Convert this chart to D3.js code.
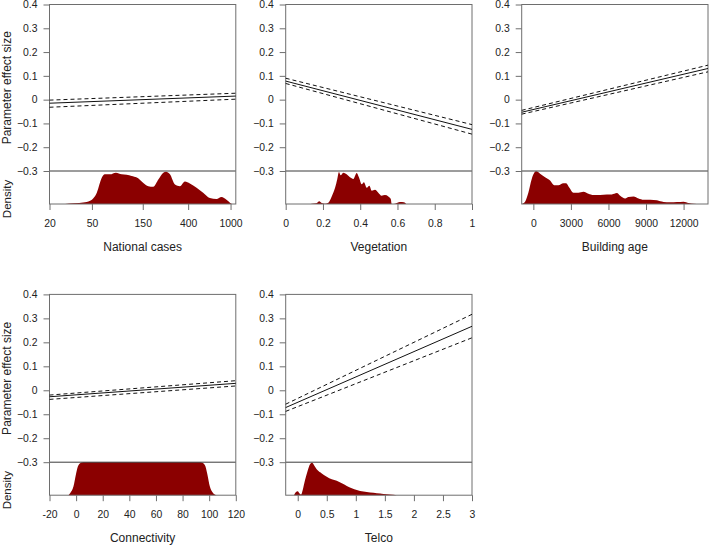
<!DOCTYPE html>
<html><head><meta charset="utf-8">
<script src="https://cdn.jsdelivr.net/npm/d3@7"></script>
<style>body{margin:0;background:#fff}svg{display:block}</style>
</head><body>
<svg id="c" width="709" height="546"></svg>
<script>
// ---- shared effect axis ----
const effectTicks = [0.4, 0.3, 0.2, 0.1, 0, -0.1, -0.2, -0.3];

// ---- National cases (log axis) ----
const ncDomain = [20, 1120];
const ncTicks = [20, 50, 150, 400, 1000];
const ncLineX = [20, 1120];
const ncFit = [-0.015, 0.015];
const ncLower = [-0.032, 0.002];
const ncUpper = [-0.002, 0.027];
const ncDensX = [28, 33.6, 43, 50, 55.6, 62, 66, 74, 84, 95, 106, 118, 132, 152, 169, 188, 210, 234, 248, 270, 301, 335, 373, 415, 480, 553, 639, 738, 822, 916, 1020, 1040];
const ncDensY = [0, 0.02, 0.05, 0.13, 0.34, 0.80, 0.90, 0.90, 0.95, 0.90, 0.89, 0.85, 0.80, 0.64, 0.54, 0.52, 0.74, 0.95, 0.98, 0.90, 0.59, 0.54, 0.68, 0.62, 0.49, 0.34, 0.18, 0.15, 0.21, 0.13, 0.01, 0];

// ---- Vegetation ----
const vgDomain = [0, 1];
const vgTicks = [0, 0.2, 0.4, 0.6, 0.8, 1];
const vgLineX = [0, 1];
const vgFit = [0.078, -0.125];
const vgLower = [0.068, -0.145];
const vgUpper = [0.09, -0.105];
const vgDensX = [0.13, 0.14, 0.165, 0.18, 0.193, 0.211, 0.229, 0.247, 0.265, 0.277, 0.286, 0.295, 0.309, 0.327, 0.345, 0.363, 0.381, 0.393, 0.408, 0.420, 0.435, 0.449, 0.462, 0.479, 0.497, 0.515, 0.533, 0.551, 0.564, 0.569, 0.587, 0.613, 0.635, 0.646];
const vgDensY = [0, 0.01, 0.02, 0.08, 0.03, 0.01, 0.04, 0.23, 0.49, 0.76, 0.97, 0.87, 0.95, 0.90, 0.81, 0.76, 0.94, 0.81, 0.60, 0.66, 0.49, 0.55, 0.40, 0.43, 0.34, 0.25, 0.27, 0.23, 0.15, 0.0, 0.01, 0.06, 0.05, 0];

// ---- Building age ----
const baDomain = [-930, 13950];
const baTicks = [0, 3000, 6000, 9000, 12000];
const baLineX = [-930, 13950];
const baFit = [-0.053, 0.131];
const baLower = [-0.061, 0.117];
const baUpper = [-0.045, 0.145];
const baDensX = [-928, -664, -400, -128, 216, 536, 936, 1336, 1656, 2000, 2400, 2616, 2880, 3200, 3600, 4000, 4400, 4800, 5336, 5872, 6272, 6672, 6936, 7336, 7600, 8000, 8400, 8800, 9336, 9872, 10400, 10936, 11472, 12000, 12400, 12800, 13336];
const baDensY = [0, 0.07, 0.34, 0.76, 0.99, 0.92, 0.81, 0.71, 0.57, 0.57, 0.63, 0.63, 0.49, 0.34, 0.34, 0.37, 0.31, 0.27, 0.27, 0.29, 0.29, 0.33, 0.25, 0.17, 0.21, 0.23, 0.17, 0.13, 0.13, 0.11, 0.06, 0.05, 0.06, 0.07, 0.03, 0.01, 0];

// ---- Connectivity ----
const cnDomain = [-20, 120];
const cnTicks = [-20, 0, 20, 40, 60, 80, 100, 120];
const cnLineX = [-20, 120];
const cnFit = [-0.027, 0.029];
const cnLower = [-0.038, 0.018];
const cnUpper = [-0.02, 0.04];
const cnDensX = [-5.7, -4.5, -2, 0, 1.75, 4.3, 6.8, 50, 92, 94.3, 96.8, 98.5, 100.5, 103, 105.5];
const cnDensY = [0, 0.06, 0.26, 0.66, 0.91, 0.99, 1.0, 1.0, 1.0, 0.99, 0.91, 0.66, 0.26, 0.06, 0];

// ---- Telco ----
const tcDomain = [-0.207, 3.0];
const tcTicks = [0, 0.5, 1, 1.5, 2, 2.5, 3];
const tcLineX = [-0.207, 3.0];
const tcFit = [-0.072, 0.267];
const tcLower = [-0.088, 0.219];
const tcUpper = [-0.058, 0.317];
const tcDensX = [-0.064, -0.034, 0, 0.028, 0.057, 0.086, 0.126, 0.166, 0.212, 0.247, 0.281, 0.338, 0.414, 0.5, 0.586, 0.672, 0.759, 0.845, 0.931, 1.017, 1.131, 1.247, 1.362, 1.476, 1.591, 1.707];
const tcDensY = [0, 0.09, 0.12, 0.06, 0.02, 0.16, 0.46, 0.71, 0.94, 0.98, 0.91, 0.76, 0.66, 0.56, 0.48, 0.44, 0.36, 0.28, 0.21, 0.16, 0.11, 0.08, 0.06, 0.04, 0.02, 0];

const panels = [
  {title: "National cases", log: true, domain: ncDomain, ticks: ncTicks, lx: ncLineX, fit: ncFit, lo: ncLower, hi: ncUpper, dx: ncDensX, dy: ncDensY, col: 0, row: 0},
  {title: "Vegetation", domain: vgDomain, ticks: vgTicks, lx: vgLineX, fit: vgFit, lo: vgLower, hi: vgUpper, dx: vgDensX, dy: vgDensY, col: 1, row: 0},
  {title: "Building age", domain: baDomain, ticks: baTicks, lx: baLineX, fit: baFit, lo: baLower, hi: baUpper, dx: baDensX, dy: baDensY, col: 2, row: 0},
  {title: "Connectivity", domain: cnDomain, ticks: cnTicks, lx: cnLineX, fit: cnFit, lo: cnLower, hi: cnUpper, dx: cnDensX, dy: cnDensY, col: 0, row: 1},
  {title: "Telco", domain: tcDomain, ticks: tcTicks, lx: tcLineX, fit: tcFit, lo: tcLower, hi: tcUpper, dx: tcDensX, dy: tcDensY, col: 1, row: 1}
];

const colLeft = [49.5, 285.7, 521.7];
const plotW = 186.3;
const rowTop = [4.5, 294.4];
const effH = [166.5, 167.8];
const densH = 33.0;
const frameColor = "#6e6e6e";
const font = "'Liberation Sans', Arial, sans-serif";
const tickFont = 10.4;

const svg = d3.select("#c");

panels.forEach(p => {
  const left = colLeft[p.col], top = rowTop[p.row];
  const y = d3.scaleLinear().domain([-0.3, 0.4]).range([top + effH[p.row], top]);
  const baseY = y(-0.3) + densH;
  const x = (p.log ? d3.scaleLog() : d3.scaleLinear()).domain(p.domain).range([left, left + plotW]);
  const yd = d3.scaleLinear().domain([0, 1]).range([baseY, y(-0.3)]);
  const g = svg.append("g");

  // density
  const dens = p.dx.map((v, i) => [v, p.dy[i]]);
  g.append("path").datum(dens)
    .attr("fill", "#8b0000")
    .attr("d", d3.area().x(d => x(d[0])).y0(baseY).y1(d => yd(d[1])).curve(d3.curveMonotoneX));

  // separator line at -0.3
  g.append("line").attr("x1", left).attr("x2", left + plotW)
    .attr("y1", y(-0.3)).attr("y2", y(-0.3)).attr("stroke", "#3a3a3a").attr("stroke-width", 1);

  // frame
  g.append("rect").attr("x", left).attr("y", top).attr("width", plotW).attr("height", baseY - top)
    .attr("fill", "none").attr("stroke", frameColor).attr("stroke-width", 1);

  // lines
  const line = d3.line().x(d => x(d[0])).y(d => y(d[1]));
  const mk = arr => p.lx.map((v, i) => [v, arr[i]]);
  g.append("path").datum(mk(p.fit)).attr("d", line).attr("fill", "none").attr("stroke", "#111").attr("stroke-width", 1);
  [p.lo, p.hi].forEach(arr => {
    g.append("path").datum(mk(arr)).attr("d", line).attr("fill", "none").attr("stroke", "#111")
      .attr("stroke-width", 1).attr("stroke-dasharray", "4,3");
  });

  // y axis
  const ya = g.append("g").attr("transform", `translate(${left},0)`)
    .call(d3.axisLeft(y).tickValues(effectTicks).tickSize(6).tickPadding(6).tickFormat(d => d === 0 ? "0" : d3.format(".1f")(d)));
  ya.select(".domain").remove();
  ya.selectAll("line").attr("stroke", frameColor);
  ya.selectAll("text").attr("font-family", font).attr("font-size", tickFont).attr("fill", "#222");

  // x axis
  const xa = g.append("g").attr("transform", `translate(0,${baseY})`)
    .call(d3.axisBottom(x).tickValues(p.ticks).tickSize(6).tickPadding(9.6).tickFormat(d => String(d)));
  xa.select(".domain").remove();
  xa.selectAll("line").attr("stroke", frameColor);
  xa.selectAll("text").attr("font-family", font).attr("font-size", tickFont).attr("fill", "#222");

  // titles
  g.append("text").attr("x", left + plotW / 2).attr("y", baseY + 46.7)
    .attr("text-anchor", "middle").attr("font-family", font).attr("font-size", 12).attr("fill", "#222").text(p.title);

  if (p.col === 0) {
    g.append("text").attr("transform", `translate(10.5,${(y(0.4) + y(-0.3)) / 2}) rotate(-90)`)
      .attr("text-anchor", "middle").attr("font-family", font).attr("font-size", 12).attr("fill", "#222").text("Parameter effect size");
    g.append("text").attr("transform", `translate(10.5,${y(-0.3) + 28}) rotate(-90)`)
      .attr("text-anchor", "middle").attr("font-family", font).attr("font-size", 11.5).attr("fill", "#222").text("Density");
  }
});
</script>
</body></html>
